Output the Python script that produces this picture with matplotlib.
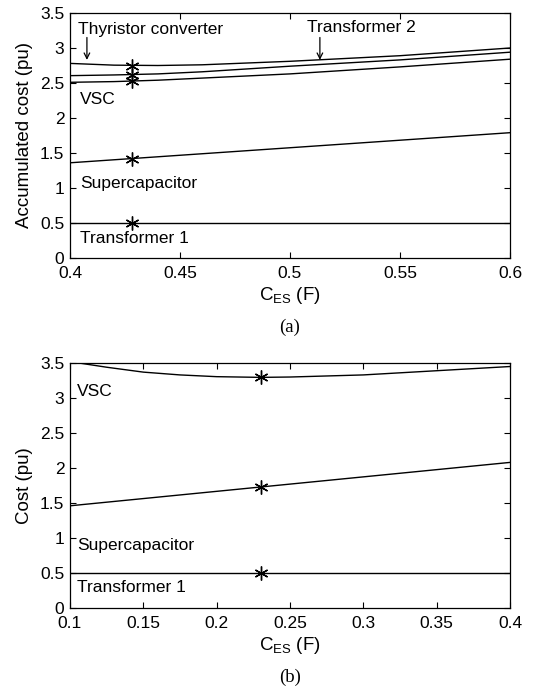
#!/usr/bin/env python3
"""Accumulated cost vs. storage capacitance, two operating cases (a) and (b)."""

import matplotlib
matplotlib.use("Agg")
import matplotlib.pyplot as plt

plt.rcParams["font.family"] = ["Liberation Sans", "DejaVu Sans"]
plt.rcParams["mathtext.default"] = "regular"

# ---- panel (a) data ----
x_a = [0.40, 0.42, 0.44, 0.46, 0.50, 0.55, 0.60]
thyristor_a = [2.78, 2.755, 2.75, 2.76, 2.81, 2.89, 3.00]
transformer2_a = [2.605, 2.615, 2.63, 2.66, 2.74, 2.83, 2.94]
vsc_a = [2.51, 2.52, 2.54, 2.57, 2.63, 2.73, 2.84]
x_a_lin = [0.40, 0.50, 0.60]
supercap_a = [1.36, 1.575, 1.79]
transformer1_a = [0.5, 0.5, 0.5]
opt_x_a = 0.428
opt_y_a = [2.75, 2.62, 2.53, 1.42, 0.5]
xticks_a = [0.4, 0.45, 0.5, 0.55, 0.6]
xticklabels_a = ["0.4", "0.45", "0.5", "0.55", "0.6"]

# ---- panel (b) data ----
x_b = [0.10, 0.125, 0.15, 0.175, 0.20, 0.23, 0.25, 0.30, 0.35, 0.40]
vsc_b = [3.52, 3.44, 3.37, 3.33, 3.305, 3.295, 3.30, 3.33, 3.39, 3.45]
x_b_lin = [0.10, 0.40]
supercap_b = [1.46, 2.08]
transformer1_b = [0.5, 0.5]
opt_x_b = 0.23
opt_y_b = [3.30, 1.73, 0.5]
xticks_b = [0.1, 0.15, 0.2, 0.25, 0.3, 0.35, 0.4]
xticklabels_b = ["0.1", "0.15", "0.2", "0.25", "0.3", "0.35", "0.4"]

yticks = [0, 0.5, 1, 1.5, 2, 2.5, 3, 3.5]
yticklabels = ["0", "0.5", "1", "1.5", "2", "2.5", "3", "3.5"]

FS = 12.5
LW = 1.0
MARKER = (6, 2, 0)


def style_axes(ax, xlim, xticks, xticklabels, ylabel, caption):
    ax.set_xlim(*xlim)
    ax.set_ylim(0, 3.5)
    ax.set_xticks(xticks)
    ax.set_xticklabels(xticklabels, fontsize=FS)
    ax.set_yticks(yticks)
    ax.set_yticklabels(yticklabels, fontsize=FS)
    ax.tick_params(direction="in", top=True, right=True, length=4, width=0.8)
    ax.tick_params(axis="x", pad=6)
    ax.tick_params(axis="y", pad=4)
    for sp in ax.spines.values():
        sp.set_linewidth(0.9)
    ax.set_xlabel(r"$C_{ES}$ (F)", fontsize=13.5, labelpad=3)
    ax.set_ylabel(ylabel, fontsize=13.5, labelpad=5)
    ax.text(0.5, -0.285, caption, transform=ax.transAxes, ha="center", va="center",
            fontsize=13.5, family=["Liberation Serif", "DejaVu Serif"])


fig = plt.figure(figsize=(5.35, 6.92), dpi=100)
ax_a = fig.add_axes([0.1308, 0.6272, 0.8224, 0.354])
ax_b = fig.add_axes([0.1308, 0.1214, 0.8224, 0.354])

# panel (a)
for y in (thyristor_a, transformer2_a, vsc_a):
    ax_a.plot(x_a, y, color="black", lw=LW)
ax_a.plot(x_a_lin, supercap_a, color="black", lw=LW)
ax_a.plot(x_a_lin, transformer1_a, color="black", lw=LW)
ax_a.plot([opt_x_a] * len(opt_y_a), opt_y_a, linestyle="none", marker=MARKER,
          markersize=10, markeredgewidth=1.0, color="black")

ax_a.text(0.4036, 3.27, "Thyristor converter", fontsize=FS, va="center", ha="left")
ax_a.annotate("", xy=(0.4077, 2.79), xytext=(0.4077, 3.19),
              arrowprops=dict(arrowstyle="->", color="black", lw=0.9))
ax_a.text(0.5077, 3.29, "Transformer 2", fontsize=FS, va="center", ha="left")
ax_a.annotate("", xy=(0.5136, 2.79), xytext=(0.5136, 3.19),
              arrowprops=dict(arrowstyle="->", color="black", lw=0.9))
ax_a.text(0.4045, 2.26, "VSC", fontsize=FS, va="center", ha="left")
ax_a.text(0.4045, 1.07, "Supercapacitor", fontsize=FS, va="center", ha="left")
ax_a.text(0.4045, 0.28, "Transformer 1", fontsize=FS, va="center", ha="left")
style_axes(ax_a, (0.4, 0.6), xticks_a, xticklabels_a, "Accumulated cost (pu)", "(a)")

# panel (b)
ax_b.plot(x_b, vsc_b, color="black", lw=LW, clip_on=True)
ax_b.plot(x_b_lin, supercap_b, color="black", lw=LW)
ax_b.plot(x_b_lin, transformer1_b, color="black", lw=LW)
ax_b.plot([opt_x_b] * len(opt_y_b), opt_y_b, linestyle="none", marker=MARKER,
          markersize=10, markeredgewidth=1.0, color="black")

ax_b.text(0.1048, 3.09, "VSC", fontsize=FS, va="center", ha="left")
ax_b.text(0.1048, 0.89, "Supercapacitor", fontsize=FS, va="center", ha="left")
ax_b.text(0.1048, 0.29, "Transformer 1", fontsize=FS, va="center", ha="left")
style_axes(ax_b, (0.1, 0.4), xticks_b, xticklabels_b, "Cost (pu)", "(b)")

fig.savefig("out.png", dpi=100)
plt.close(fig)
